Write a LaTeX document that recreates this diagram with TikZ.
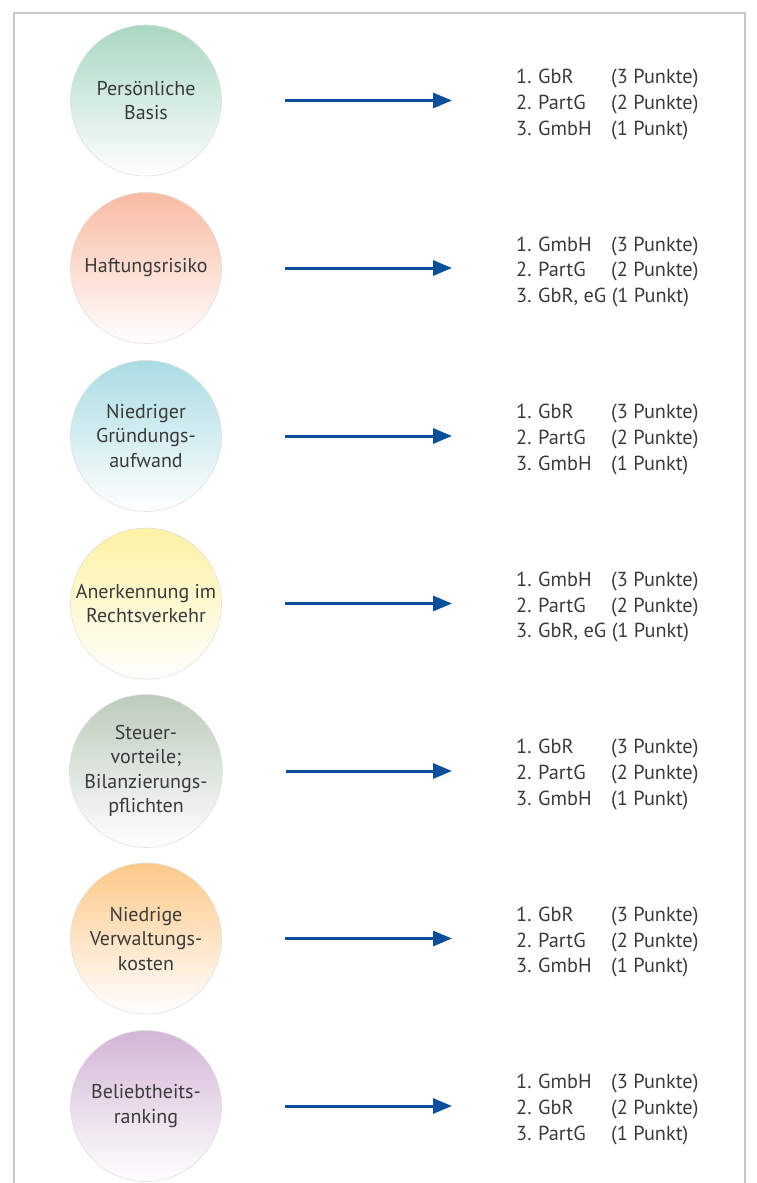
\documentclass[tikz,border=0pt]{standalone}
\usepackage{fontspec}
\setmainfont{PT Sans}
\usetikzlibrary{arrows.meta}
\definecolor{txt}{HTML}{3A3A3A}
\definecolor{arr}{HTML}{0B4F9B}
\definecolor{frm}{HTML}{C8C8C8}
\definecolor{cA}{HTML}{A9D8C2}
\definecolor{cB}{HTML}{F9BBA3}
\definecolor{cC}{HTML}{A9DCE3}
\definecolor{cD}{HTML}{FDF1A4}
\definecolor{cE}{HTML}{BCCBBB}
\definecolor{cF}{HTML}{FDC98A}
\definecolor{cG}{HTML}{D3B6D6}
\newcommand\entry[3]{\makebox[22pt][l]{#1}\makebox[73pt][l]{#2}#3}
\begin{document}
\begin{tikzpicture}[x=1pt,y=-1pt,
  bubble/.style={circle, minimum size=151pt, inner sep=0pt, draw=black!12, line width=0.6pt,
    top color=#1, bottom color=white, text=txt, align=center,
    font=\fontsize{20}{24.5}\selectfont},
  list/.style={anchor=west, inner sep=0pt, align=left, text=txt,
    font=\fontsize{20.3}{25.6}\selectfont},
  link/.style={draw=arr, line width=3pt, -{Triangle[length=19pt,width=15pt]}},
  frame/.style={draw=frm, line width=1.5pt}]
\useasboundingbox (0,0) rectangle (757,1183);
\draw[frame] (14,1190) -- (14,13) -- (745,13) -- (745,1190);

\node[bubble=cA] (c1) at (146,100.5) {Persönliche\\Basis};
\node[list] (l1) at (516,104.5) {\entry{1.}{GbR}{(3 Punkte)}\\\entry{2.}{PartG}{(2 Punkte)}\\\entry{3.}{GmbH}{(1 Punkt)}};

\node[bubble=cB] (c2) at (146,268) {Haftungsrisiko};
\node[list] (l2) at (516,272) {\entry{1.}{GmbH}{(3 Punkte)}\\\entry{2.}{PartG}{(2 Punkte)}\\\makebox[22pt][l]{3.}GbR, eG (1 Punkt)};

\node[bubble=cC] (c3) at (146,436) {Niedriger\\Gründungs-\\aufwand};
\node[list] (l3) at (516,439.5) {\entry{1.}{GbR}{(3 Punkte)}\\\entry{2.}{PartG}{(2 Punkte)}\\\entry{3.}{GmbH}{(1 Punkt)}};

\node[bubble=cD] (c4) at (146,603.5) {Anerkennung im\\Rechtsverkehr};
\node[list] (l4) at (516,607) {\entry{1.}{GmbH}{(3 Punkte)}\\\entry{2.}{PartG}{(2 Punkte)}\\\makebox[22pt][l]{3.}GbR, eG (1 Punkt)};

\node[bubble=cE] (c5) at (146,771) {Steuer-\\vorteile;\\Bilanzierungs-\\pflichten};
\node[list] (l5) at (516,774.5) {\entry{1.}{GbR}{(3 Punkte)}\\\entry{2.}{PartG}{(2 Punkte)}\\\entry{3.}{GmbH}{(1 Punkt)}};

\node[bubble=cF] (c6) at (146,938.5) {Niedrige\\Verwaltungs-\\kosten};
\node[list] (l6) at (516,942) {\entry{1.}{GbR}{(3 Punkte)}\\\entry{2.}{PartG}{(2 Punkte)}\\\entry{3.}{GmbH}{(1 Punkt)}};

\node[bubble=cG] (c7) at (146,1106) {Beliebtheits-\\ranking};
\node[list] (l7) at (516,1109.5) {\entry{1.}{GmbH}{(3 Punkte)}\\\entry{2.}{GbR}{(2 Punkte)}\\\entry{3.}{PartG}{(1 Punkt)}};

\foreach \i in {1,...,7}{
  \draw[link] ([xshift=63pt]c\i.east) -- ([xshift=-64pt]c\i.east -| l\i.west);
}
\end{tikzpicture}
\end{document}
